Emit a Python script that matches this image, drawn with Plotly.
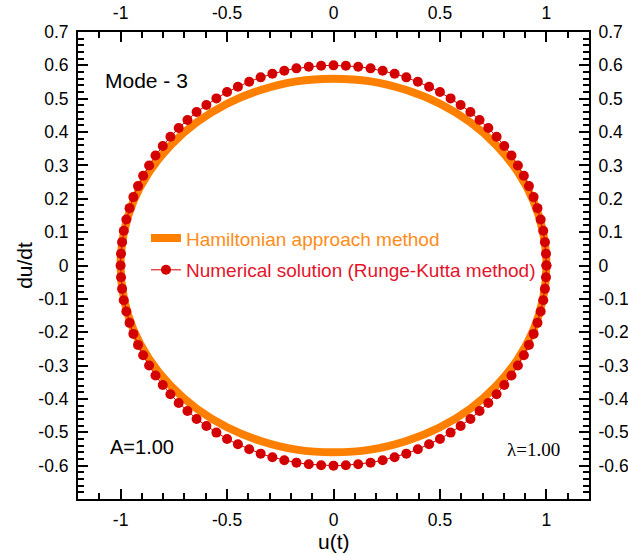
import plotly.graph_objects as go

# Hamiltonian approach method (orange curve)
ham_u = [1.000, 0.985, 0.940, 0.866, 0.766, 0.643, 0.500, 0.342, 0.174, 0.000,
         -0.174, -0.342, -0.500, -0.643, -0.766, -0.866, -0.940, -0.985, -1.000,
         -0.985, -0.940, -0.866, -0.766, -0.643, -0.500, -0.342, -0.174, 0.000,
         0.174, 0.342, 0.500, 0.643, 0.766, 0.866, 0.940, 0.985, 1.000]
ham_v = [0.000, 0.097, 0.192, 0.280, 0.360, 0.429, 0.485, 0.526, 0.552, 0.560,
         0.552, 0.526, 0.485, 0.429, 0.360, 0.280, 0.192, 0.097, 0.000,
         -0.097, -0.192, -0.280, -0.360, -0.429, -0.485, -0.526, -0.552, -0.560,
         -0.552, -0.526, -0.485, -0.429, -0.360, -0.280, -0.192, -0.097, 0.000]

# Numerical solution (Runge-Kutta) dots
rk_u = [1.000, 0.998, 0.993, 0.985, 0.973, 0.958, 0.940, 0.918, 0.894, 0.866, 0.836, 0.802, 0.766, 0.727,
        0.686, 0.643, 0.597, 0.550, 0.500, 0.449, 0.396, 0.342, 0.287, 0.231, 0.174, 0.116, 0.058,
        0.000, -0.058, -0.116, -0.174, -0.231, -0.287, -0.342, -0.396, -0.449, -0.500, -0.550, -0.597,
        -0.643, -0.686, -0.727, -0.766, -0.802, -0.836, -0.866, -0.894, -0.918, -0.940, -0.958, -0.973,
        -0.985, -0.993, -0.998,
        -1.000, -0.998, -0.993, -0.985, -0.973, -0.958, -0.940, -0.918, -0.894, -0.866, -0.836, -0.802,
        -0.766, -0.727, -0.686, -0.643, -0.597, -0.550, -0.500, -0.449, -0.396, -0.342, -0.287, -0.231,
        -0.174, -0.116, -0.058,
        0.000, 0.058, 0.116, 0.174, 0.231, 0.287, 0.342, 0.396, 0.449, 0.500, 0.550, 0.597, 0.643,
        0.686, 0.727, 0.766, 0.802, 0.836, 0.866, 0.894, 0.918, 0.940, 0.958, 0.973, 0.985, 0.993, 0.998,
        1.000]
rk_v = [0.000, 0.035, 0.070, 0.104, 0.138, 0.172, 0.205, 0.238, 0.269, 0.300, 0.330, 0.358, 0.386, 0.412,
        0.436, 0.460, 0.481, 0.501, 0.520, 0.536, 0.551, 0.564, 0.575, 0.584, 0.591, 0.596, 0.599,
        0.600, 0.599, 0.596, 0.591, 0.584, 0.575, 0.564, 0.551, 0.536, 0.520, 0.501, 0.481, 0.460,
        0.436, 0.412, 0.386, 0.358, 0.330, 0.300, 0.269, 0.238, 0.205, 0.172, 0.138, 0.104, 0.070, 0.035,
        0.000, -0.035, -0.070, -0.104, -0.138, -0.172, -0.205, -0.238, -0.269, -0.300, -0.330, -0.358,
        -0.386, -0.412, -0.436, -0.460, -0.481, -0.501, -0.520, -0.536, -0.551, -0.564, -0.575, -0.584,
        -0.591, -0.596, -0.599,
        -0.600, -0.599, -0.596, -0.591, -0.584, -0.575, -0.564, -0.551, -0.536, -0.520, -0.501, -0.481,
        -0.460, -0.436, -0.412, -0.386, -0.358, -0.330, -0.300, -0.269, -0.238, -0.205, -0.172, -0.138,
        -0.104, -0.070, -0.035,
        0.000]

x_tickvals = [-1, -0.5, 0, 0.5, 1]
x_ticktext = ["-1", "-0.5", "0", "0.5", "1"]
y_tickvals = [0.7, 0.6, 0.5, 0.4, 0.3, 0.2, 0.1, 0, -0.1, -0.2, -0.3, -0.4, -0.5, -0.6, -0.7]
y_ticktext = ["0.7", "0.6", "0.5", "0.4", "0.3", "0.2", "0.1", "0", "-0.1", "-0.2", "-0.3", "-0.4", "-0.5", "-0.6", ""]

x_minor = [round(-1.2 + 0.1 * i, 2) for i in range(25)]
y_minor = [round(-0.7 + 0.02 * i, 2) for i in range(71)]

ORANGE = "#FF8000"
RED = "#D40000"

fig = go.Figure()
fig.add_trace(go.Scatter(
    x=ham_u, y=ham_v, mode="lines", line=dict(color=ORANGE, width=8, shape="spline"),
    legendgroup="g1",
    name='<span style="color:#FF8C1A">Hamiltonian approach method</span>'))
fig.add_trace(go.Scatter(
    x=rk_u, y=rk_v, mode="lines+markers", line=dict(color=RED, width=1),
    marker=dict(color=RED, size=10), legendgroup="g2",
    name='<span style="color:#E3142B">Numerical solution (Runge-Kutta method)</span>'))
# dummy traces to activate mirrored axes
fig.add_trace(go.Scatter(x=[None], y=[None], xaxis="x2", yaxis="y", showlegend=False, hoverinfo="skip"))
fig.add_trace(go.Scatter(x=[None], y=[None], xaxis="x", yaxis="y2", showlegend=False, hoverinfo="skip"))

tickfont = dict(family="Liberation Sans, Arial", size=17.5, color="black")
common_x = dict(range=[-1.2, 1.2], tickmode="array", tickvals=x_tickvals, ticktext=x_ticktext,
                ticks="inside", ticklen=10, tickwidth=2, tickcolor="black",
                minor=dict(tickmode="array", tickvals=x_minor, ticks="inside", ticklen=6, tickwidth=1.5, tickcolor="black"),
                showline=True, linewidth=2, linecolor="black", showgrid=False, zeroline=False,
                tickfont=tickfont, ticklabelstandoff=4, automargin=False)
common_y = dict(range=[-0.7, 0.7], tickmode="array", tickvals=y_tickvals, ticktext=y_ticktext,
                ticks="inside", ticklen=10, tickwidth=2, tickcolor="black",
                minor=dict(tickmode="array", tickvals=y_minor, ticks="inside", ticklen=6, tickwidth=1.5, tickcolor="black"),
                showline=True, linewidth=2, linecolor="black", showgrid=False, zeroline=False,
                tickfont=tickfont, ticklabelstandoff=4, automargin=False)

fig.update_layout(
    width=628, height=555,
    margin=dict(l=78, r=39, t=32, b=56, autoexpand=False),
    paper_bgcolor="white", plot_bgcolor="white",
    xaxis=dict(**common_x, side="bottom"),
    xaxis2=dict(**common_x, side="top", overlaying="x", anchor="y"),
    yaxis=dict(**common_y, side="left"),
    yaxis2=dict(**common_y, side="right", overlaying="y", anchor="x"),
    showlegend=True,
    legend=dict(x=0.133, y=0.599, xanchor="left", yanchor="top", bgcolor="rgba(0,0,0,0)",
                font=dict(family="Liberation Sans, Arial", size=19), tracegroupgap=4),
    annotations=[
        dict(text="Mode - 3", x=0.049, y=0.897, xref="paper", yref="paper", xanchor="left", yanchor="middle",
             showarrow=False, font=dict(family="Liberation Sans, Arial", size=21, color="black")),
        dict(text="A=1.00", x=0.059, y=0.111, xref="paper", yref="paper", xanchor="left", yanchor="middle",
             showarrow=False, font=dict(family="Liberation Sans, Arial", size=20, color="black")),
        dict(text="λ=1.00", x=0.836, y=0.105, xref="paper", yref="paper", xanchor="left", yanchor="middle",
             showarrow=False, font=dict(family="Liberation Serif, Times New Roman", size=19, color="black")),
        dict(text="u(t)", x=0.501, y=-0.09, xref="paper", yref="paper", xanchor="center", yanchor="middle",
             showarrow=False, font=dict(family="Liberation Sans, Arial", size=21, color="black")),
        dict(text="du/dt", x=-0.106, y=0.501, xref="paper", yref="paper", xanchor="center", yanchor="middle",
             textangle=-90, showarrow=False, font=dict(family="Liberation Sans, Arial", size=21, color="black")),
    ],
)

fig.write_html("out.html", config={"displayModeBar": False},
               post_script="document.body.style.margin='0';document.body.style.overflow='hidden';")
